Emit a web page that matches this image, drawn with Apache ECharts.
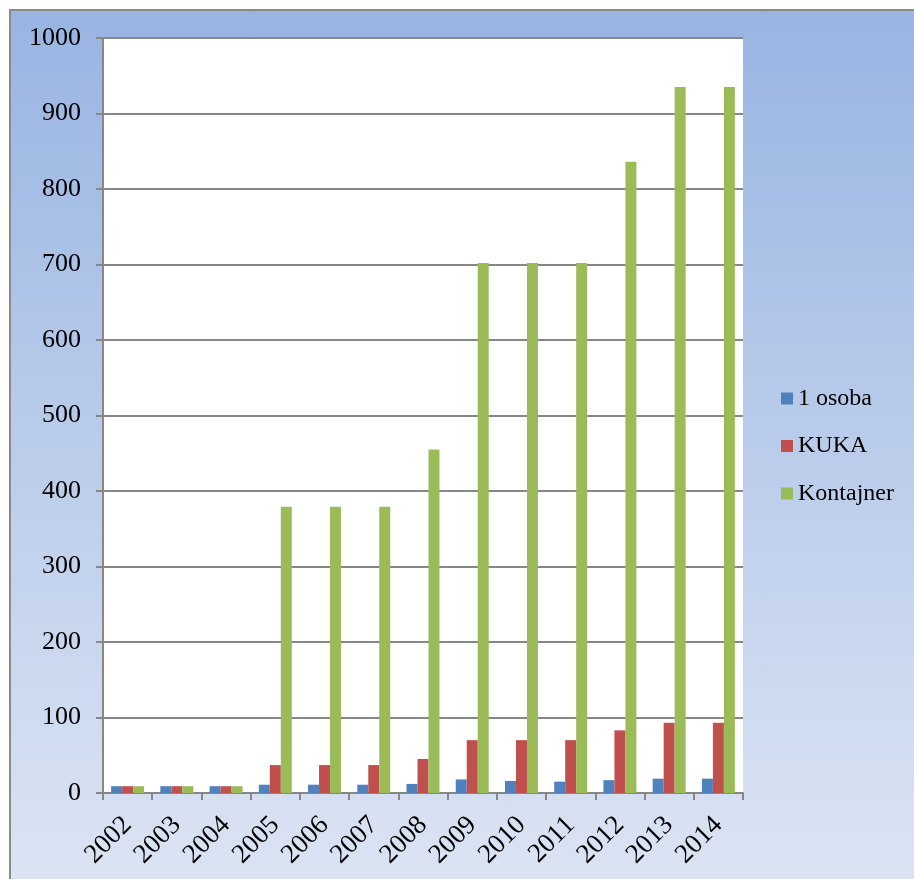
<!DOCTYPE html>
<html>
<head>
<meta charset="utf-8">
<script src="https://cdn.jsdelivr.net/npm/echarts@6/dist/echarts.min.js"></script>
<style>
  html, body { margin: 0; padding: 0; background: #fff; }
  .frame {
    position: absolute; left: 9px; top: 9px; width: 920px; height: 890px;
    border-left: 2px solid #8a8a8a; border-top: 2px solid #8a8a8a;
    background: linear-gradient(to bottom, #98b4e2, #dde5f3);
  }
  #chart { position: absolute; left: 0; top: 0; width: 914px; height: 879px; }
</style>
</head>
<body>
<div class="frame"></div>
<div id="chart"></div>
<script>
// godine
const years = ['2002', '2003', '2004', '2005', '2006', '2007', '2008', '2009', '2010', '2011', '2012', '2013', '2014'];
const legendNames = ['1 osoba', 'KUKA', 'Kontajner'];
// vrijednosti ocitane sa slike
const osoba = [9, 9, 9, 11, 11, 11, 12, 18, 16, 15, 17, 19, 19];
const kuka = [9, 9, 9, 37, 37, 37, 45, 70, 70, 70, 83, 93, 93];
const kontajner = [9, 9, 9, 379, 379, 379, 455, 702, 702, 702, 836, 935, 935];

const myChart = echarts.init(document.getElementById('chart'));
const font = 'Liberation Serif, Times New Roman, serif';

function barSeries(name, data) {
  return {
    name,
    type: 'bar',
    barGap: '0%',
    barCategoryGap: '33%',
    data,
  };
}

const option = {
  backgroundColor: 'transparent',
  animation: false,
  color: ['#4f81bd', '#c0504d', '#9bbb59'],
  legend: {
    orient: 'vertical',
    left: 776,
    top: 381,
    itemWidth: 12,
    itemHeight: 12,
    itemGap: 22.5,
    icon: 'rect',
    textStyle: { fontFamily: font, fontSize: 24, lineHeight: 25, color: '#000' },
    data: legendNames,
  },
  grid: {
    left: 103,
    right: 171,
    top: 38,
    bottom: 86,
    show: true,
    backgroundColor: '#fff',
    borderWidth: 0,
  },
  xAxis: {
    type: 'category',
    data: years,
    axisLine: { lineStyle: { color: '#878787', width: 2 } },
    axisTick: { show: true, alignWithLabel: false, length: 7, lineStyle: { color: '#878787', width: 2 } },
    axisLabel: {
      rotate: 45,
      margin: 28,
      interval: 0,
      fontFamily: font,
      fontSize: 27,
      color: '#000',
    },
  },
  yAxis: {
    type: 'value',
    min: 0,
    max: 1000,
    interval: 100,
    axisLine: { show: true, lineStyle: { color: '#878787', width: 2 } },
    axisTick: { show: true, length: 7, lineStyle: { color: '#878787', width: 2 } },
    splitLine: { lineStyle: { color: '#878787', width: 2 } },
    axisLabel: {
      margin: 22,
      fontFamily: font,
      fontSize: 26,
      color: '#000',
      formatter: (v) => String(v),
    },
  },
  series: [
    barSeries(legendNames[0], osoba),
    barSeries(legendNames[1], kuka),
    barSeries(legendNames[2], kontajner),
  ],
};

myChart.setOption(option);
</script>
</body>
</html>
